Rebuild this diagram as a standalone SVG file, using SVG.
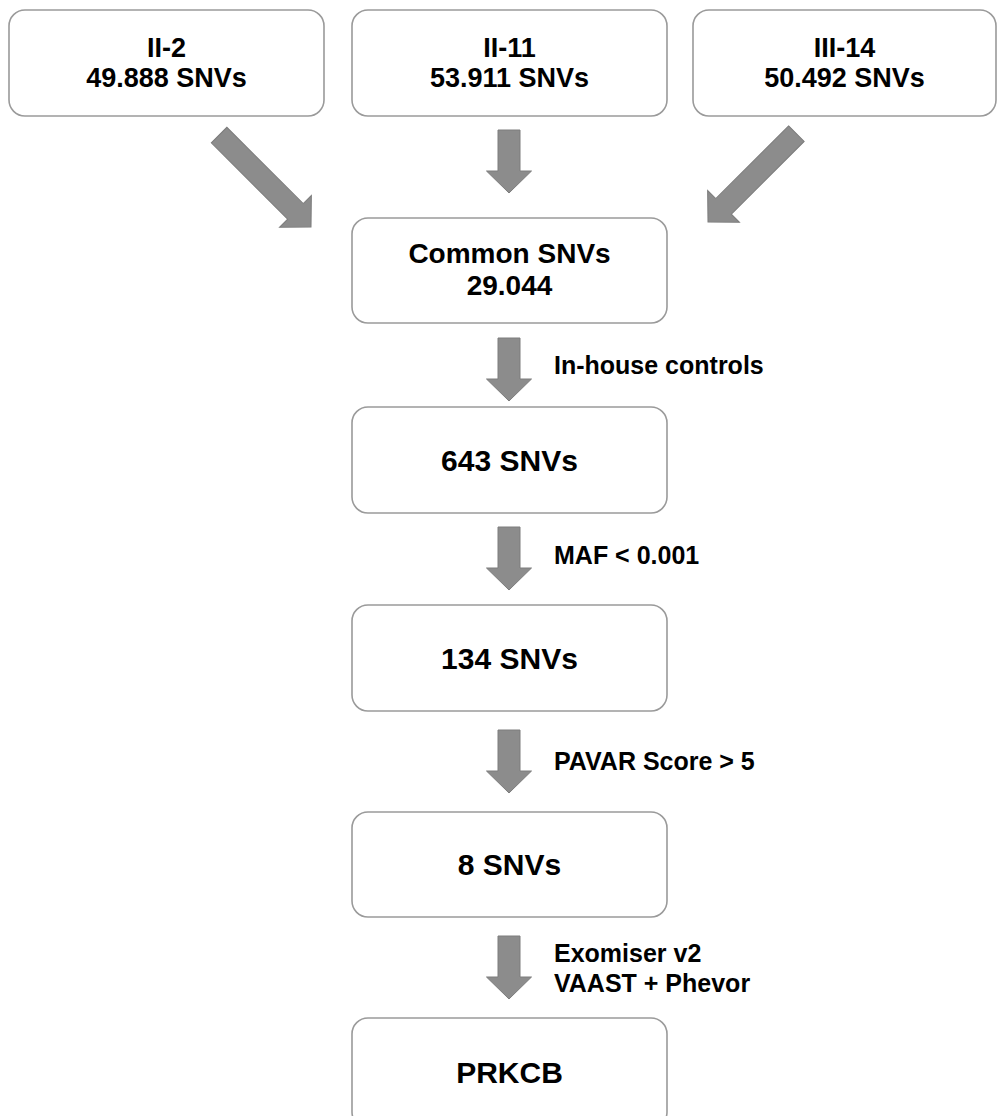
<svg xmlns="http://www.w3.org/2000/svg" width="998" height="1116" viewBox="0 0 998 1116">
<style>
.box{fill:#fff;stroke:#9a9a9a;stroke-width:1.6}
.t{font-family:"Liberation Sans",Arial,sans-serif;font-weight:bold;font-size:27px;fill:#000;text-anchor:middle}
.t28{font-size:28px}
.t30{font-size:30px}
.lbl{font-family:"Liberation Sans",Arial,sans-serif;font-weight:bold;font-size:25px;fill:#000}
.arr{fill:#8c8c8c;stroke:#7c7c7c;stroke-width:1}
</style>
<defs>
<polygon id="a63" points="-11,-63 11,-63 11,-22 22.5,-22 0,0 -22.5,-22 -11,-22"/>
</defs>
<rect width="998" height="1116" fill="#fff"/>
<g id="n-ii2"><rect class="box" x="9" y="10" width="315" height="106" rx="16"/><text class="t" x="166.5" y="57">II-2</text><text class="t" x="166.5" y="87">49.888 SNVs</text></g>
<g id="n-ii11"><rect class="box" x="352" y="10" width="315" height="106" rx="16"/><text class="t" x="509.5" y="57">II-11</text><text class="t" x="509.5" y="87">53.911 SNVs</text></g>
<g id="n-iii14"><rect class="box" x="693" y="10" width="303" height="106" rx="16"/><text class="t" x="844.5" y="57">III-14</text><text class="t" x="844.5" y="87">50.492 SNVs</text></g>
<g id="n-common"><rect class="box" x="352" y="218" width="315" height="105" rx="16"/><text class="t t28" x="509.5" y="263">Common SNVs</text><text class="t t28" x="509.5" y="295">29.044</text></g>
<g id="n-643"><rect class="box" x="352" y="407" width="315" height="106" rx="16"/><text class="t t30" x="509.5" y="471">643 SNVs</text></g>
<g id="n-134"><rect class="box" x="352" y="605" width="315" height="106" rx="16"/><text class="t t30" x="509.5" y="669">134 SNVs</text></g>
<g id="n-8"><rect class="box" x="352" y="812" width="315" height="105" rx="16"/><text class="t t30" x="509.5" y="875">8 SNVs</text></g>
<g id="n-prkcb"><rect class="box" x="352" y="1018" width="315" height="110" rx="16"/><text class="t t30" x="509.5" y="1083">PRKCB</text></g>
<g id="connectors">
<polygon class="arr" transform="translate(311,227) rotate(-45)" points="-11,-130 11,-130 11,-22 22.5,-22 0,0 -22.5,-22 -11,-22"/>
<polygon class="arr" transform="translate(708,222) rotate(45)" points="-11,-125 11,-125 11,-22 22.5,-22 0,0 -22.5,-22 -11,-22"/>
<use href="#a63" class="arr" x="509" y="193"/>
<use href="#a63" class="arr" x="509" y="401"/>
<use href="#a63" class="arr" x="509" y="590"/>
<use href="#a63" class="arr" x="509" y="793"/>
<use href="#a63" class="arr" x="509" y="999"/>
<text class="lbl" x="554" y="374">In-house controls</text>
<text class="lbl" x="554" y="564">MAF &lt; 0.001</text>
<text class="lbl" x="554" y="770">PAVAR Score &gt; 5</text>
<text class="lbl" x="554" y="962">Exomiser v2</text>
<text class="lbl" x="554" y="992">VAAST + Phevor</text>
</g>
</svg>
